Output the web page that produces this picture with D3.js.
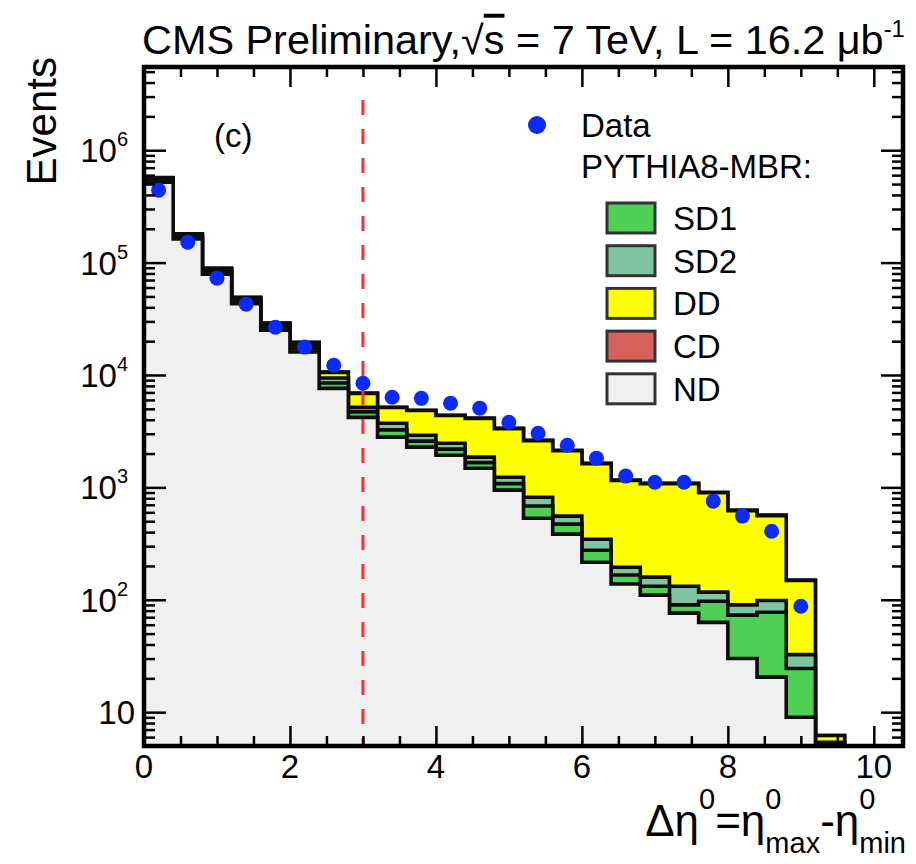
<!DOCTYPE html>
<html>
<head>
<meta charset="utf-8">
<script src="https://cdn.jsdelivr.net/npm/d3@7"></script>
<style>
  html, body { margin: 0; padding: 0; background: #fff; }
  svg text { font-family: "Liberation Sans", Arial, Helvetica, sans-serif; fill: #000; }
</style>
</head>
<body>
<svg id="chart" width="916" height="864"></svg>
<script>
// Δη0 histogram bins: lower edges, fixed width
const binLow = [0.0, 0.4, 0.8, 1.2, 1.6, 2.0, 2.4, 2.8, 3.2, 3.6, 4.0, 4.4,
                4.8, 5.2, 5.6, 6.0, 6.4, 6.8, 7.2, 7.6, 8.0, 8.4, 8.8, 9.2];
const binWidth = 0.4;

// Measured events per bin (first 23 bins)
const dataEvents = [441000, 152000, 72700, 42700, 26600, 17700, 12200, 8450, 6340, 6200,
                    5610, 5070, 3800, 3030, 2370, 1820, 1260, 1110, 1110, 754, 555, 407, 87.7];

// PYTHIA8-MBR components per bin
const mcND  = [520000, 162000, 79000, 43000, 25000, 16000, 7600, 4200, 2800, 2280, 1930, 1480,
               945, 532, 384, 216, 138, 110, 76, 63, 30, 20.5, 9, 2.5];
const mcSD1 = [16000, 6000, 3500, 2000, 1300, 1100, 900, 500, 450, 300, 260, 180,
               135, 150, 87, 60, 28, 22, 14, 34, 43, 57, 15.5, 1.5];
const mcSD2 = [16000, 6000, 3300, 2000, 1300, 1100, 900, 450, 470, 330, 280, 200,
               150, 136, 84, 70, 29, 27, 42, 20, 17, 21, 8, 1.4];
const mcDD  = [16000, 5500, 3000, 1900, 1300, 1200, 1150, 1700, 1420, 1920, 1890, 2240,
               2100, 1790, 1565, 1280, 955, 921, 948, 780, 530, 462, 116, 0.8];
const mcCD  = [2000, 500, 200, 100, 100, 100, 50, 50, 30, 30, 30, 30,
               30, 22, 20, 14, 10, 10, 10, 9, 7, 6, 1.5, 0];

const componentKeys   = ["nd", "sd1", "sd2", "dd", "cd"];        // bottom → top of the stack
const componentColors = { nd: "#f0f0f0", sd1: "#4dd053", sd2: "#80c4a2", dd: "#ffff00", cd: "#d7605a" };
const legendKeys   = ["sd1", "sd2", "dd", "cd", "nd"];
const legendLabels = ["SD1", "SD2", "DD", "CD", "ND"];

const xMajorTicks = [0, 2, 4, 6, 8, 10];
const yMajorTicks = [10, 100, 1000, 10000, 100000, 1000000];
const cutValue = 3;          // vertical selection line at Δη0 = 3
const cutTop = 2.8e6;

const svg = d3.select("#chart");
const plot = { left: 144, right: 903, top: 67, bottom: 746 };

const x = d3.scaleLinear().domain([0, 10.4]).range([plot.left, plot.right]);
const y = d3.scaleLog().domain([5, 5.5e6]).range([plot.bottom, plot.top]).clamp(true);
const yv = v => y(Math.max(v, 1e-3));

svg.append("defs").append("clipPath").attr("id", "plotClip")
  .append("rect").attr("x", plot.left).attr("y", plot.top)
  .attr("width", plot.right - plot.left).attr("height", plot.bottom - plot.top);

// Stack the components
const rows = binLow.map((b, i) => ({ nd: mcND[i], sd1: mcSD1[i], sd2: mcSD2[i], dd: mcDD[i], cd: mcCD[i] }));
const stacked = d3.stack().keys(componentKeys)(rows);

function stepPath(tops) {
  const pts = [[x(binLow[0]), plot.bottom]];
  tops.forEach((v, i) => {
    pts.push([x(binLow[i]), yv(v)]);
    pts.push([x(binLow[i] + binWidth), yv(v)]);
  });
  pts.push([x(binLow[binLow.length - 1] + binWidth), plot.bottom]);
  return d3.line()(pts);
}

const hist = svg.append("g").attr("clip-path", "url(#plotClip)");
// cumulative histograms, drawn from the full sum down to ND
stacked.slice().reverse().forEach(s => {
  hist.append("path")
    .attr("d", stepPath(s.map(d => d[1])))
    .attr("fill", componentColors[s.key])
    .attr("stroke", "#0d0d0d")
    .attr("stroke-width", 3.6)
    .attr("stroke-linejoin", "miter");
});

// Selection line
svg.append("line")
  .attr("x1", x(cutValue)).attr("x2", x(cutValue))
  .attr("y1", y(cutTop)).attr("y2", plot.bottom)
  .attr("stroke", "#ff2d2d").attr("stroke-width", 3)
  .attr("stroke-dasharray", "15,14");

// Data points
svg.append("g").selectAll("circle").data(dataEvents).join("circle")
  .attr("cx", (d, i) => x(binLow[i] + binWidth / 2))
  .attr("cy", d => y(d))
  .attr("r", 7.5)
  .attr("fill", "#0a2aff");

// Axes: ticks pointing inwards on all four sides
const tickStyle = g => { g.select(".domain").remove(); g.selectAll("line").attr("stroke", "#000").attr("stroke-width", 2.5); };
const xMinor = d3.range(0, 10.4, 0.5).filter(v => !xMajorTicks.includes(v));
const yMinor = y.ticks().filter(v => !yMajorTicks.includes(v));

svg.append("g").attr("transform", `translate(0,${plot.bottom})`)
  .call(d3.axisBottom(x).tickValues(xMajorTicks).tickSize(-20).tickFormat(""))
  .call(tickStyle);
svg.append("g").attr("transform", `translate(0,${plot.bottom})`)
  .call(d3.axisBottom(x).tickValues(xMinor).tickSize(-10).tickFormat(""))
  .call(tickStyle);
svg.append("g").attr("transform", `translate(0,${plot.top})`)
  .call(d3.axisTop(x).tickValues(xMajorTicks).tickSize(-20).tickFormat(""))
  .call(tickStyle);
svg.append("g").attr("transform", `translate(0,${plot.top})`)
  .call(d3.axisTop(x).tickValues(xMinor).tickSize(-10).tickFormat(""))
  .call(tickStyle);
svg.append("g").attr("transform", `translate(${plot.left},0)`)
  .call(d3.axisLeft(y).tickValues(yMajorTicks).tickSize(-22).tickFormat(""))
  .call(tickStyle);
svg.append("g").attr("transform", `translate(${plot.left},0)`)
  .call(d3.axisLeft(y).tickValues(yMinor).tickSize(-11).tickFormat(""))
  .call(tickStyle);
svg.append("g").attr("transform", `translate(${plot.right},0)`)
  .call(d3.axisRight(y).tickValues(yMajorTicks).tickSize(-22).tickFormat(""))
  .call(tickStyle);
svg.append("g").attr("transform", `translate(${plot.right},0)`)
  .call(d3.axisRight(y).tickValues(yMinor).tickSize(-11).tickFormat(""))
  .call(tickStyle);

// Frame
svg.append("rect")
  .attr("x", plot.left).attr("y", plot.top)
  .attr("width", plot.right - plot.left).attr("height", plot.bottom - plot.top)
  .attr("fill", "none").attr("stroke", "#000").attr("stroke-width", 4.5);

// X tick labels
svg.append("g").selectAll("text").data(xMajorTicks).join("text")
  .attr("x", d => x(d)).attr("y", plot.bottom + 32)
  .attr("text-anchor", "middle").attr("font-size", 33)
  .text(d => d);

// Y tick labels (powers of ten)
yMajorTicks.forEach(v => {
  const exp = Math.round(Math.log10(v));
  const t = svg.append("text").attr("y", y(v) + 12).attr("font-size", 33).attr("text-anchor", "end");
  if (exp === 1) {
    t.attr("x", plot.left - 9).text("10");
  } else {
    t.attr("x", plot.left - 16);
    t.append("tspan").text("10");
    t.append("tspan").attr("dy", -16).attr("font-size", 20).text(exp);
  }
});

// Y title
svg.append("text")
  .attr("transform", `translate(56,${plot.top - 10}) rotate(-90)`)
  .attr("text-anchor", "end").attr("font-size", 42)
  .text("Events");

// Panel tag
svg.append("text").attr("x", 214).attr("y", 147).attr("font-size", 33).text("(c)");

// Title
const title = svg.append("text").attr("x", 142).attr("y", 54).attr("font-size", 40);
title.append("tspan").text("CMS Preliminary,√");
title.append("tspan").attr("text-decoration", "overline").text("s");
title.append("tspan").text(" = 7 TeV, L = 16.2 μb");
title.append("tspan").attr("dy", -17).attr("font-size", 23).text("-1");
{
  const w = title.node().getComputedTextLength();
  const target = 905 - 142;
  title.attr("transform", `translate(142,0) scale(${target / w},1) translate(-142,0)`);
}

// Legend
const legend = svg.append("g");
legend.append("circle").attr("cx", 537).attr("cy", 125).attr("r", 9).attr("fill", "#0a2aff");
legend.append("text").attr("x", 581).attr("y", 137).attr("font-size", 33).text("Data");
legend.append("text").attr("x", 581).attr("y", 178).attr("font-size", 33).text("PYTHIA8-MBR:");
legendKeys.forEach((k, i) => {
  const top = 203 + i * 42.7;
  legend.append("rect").attr("x", 607).attr("y", top).attr("width", 48).attr("height", 30)
    .attr("fill", componentColors[k]).attr("stroke", "#333").attr("stroke-width", 3);
  legend.append("text").attr("x", 673).attr("y", top + 27).attr("font-size", 33).text(legendLabels[i]);
});

// X title: Δη0 = η0max − η0min, built from pieces with stacked super/subscripts
{
  const g = svg.append("g");
  const base = 836, big = 44, small = 29;
  let cx = 0;
  const piece = (txt, size, dy) => {
    const t = g.append("text").attr("x", cx).attr("y", base + dy).attr("font-size", size).text(txt);
    return t.node().getComputedTextLength();
  };
  const supsub = (sup, sub) => {
    const w1 = piece(sup, small, -27);
    const w2 = sub ? piece(sub, small, 17) : 0;
    cx += Math.max(w1, w2);
  };
  cx += piece("Δη", big, 0);
  supsub("0", null);
  cx += piece("=η", big, 0);
  supsub("0", "max");
  cx += piece("-η", big, 0);
  supsub("0", "min");
  g.attr("transform", `translate(${906 - cx},0)`);
}
</script>
</body>
</html>
